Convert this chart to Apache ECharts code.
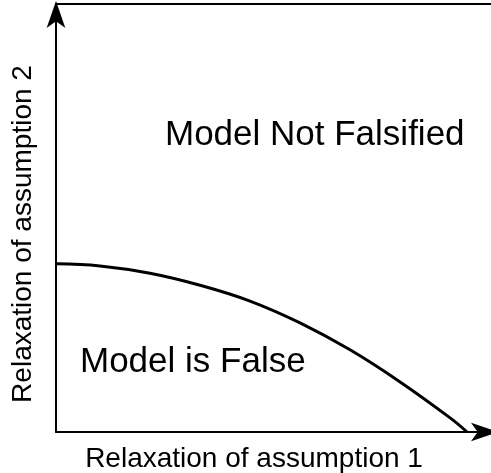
<!DOCTYPE html>
<html>
<head>
<meta charset="utf-8">
<script src="https://cdn.jsdelivr.net/npm/echarts@6/dist/echarts.min.js"></script>
<style>
  html, body { margin: 0; padding: 0; background: #fff; }
  #chart { width: 491px; height: 473px; }
</style>
</head>
<body>
<div id="chart"></div>
<script>
// boundary curve (relative units)
const curveX = [0, 0.101, 0.216, 0.331, 0.446, 0.561, 0.676, 0.791, 0.906, 0.945];
const curveY = [0.393, 0.388, 0.371, 0.343, 0.306, 0.255, 0.192, 0.117, 0.033, 0];

const xName = 'Relaxation of assumption 1';
const yName = 'Relaxation of assumption 2';
const upperLabel = 'Model Not Falsified';
const lowerLabel = 'Model is False';

const font = '"Liberation Sans", Arial, Helvetica, sans-serif';

const chart = echarts.init(document.querySelector('#chart'));
chart.setOption({
    animation: false,
    grid: {
        left: 56,
        right: 0,
        top: 4,
        bottom: 41,
    },
    xAxis: [
        {
            type: 'value',
            min: 0,
            max: 1,
            axisLine: {
                show: true,
                symbol: ['none', 'arrow'],
                symbolSize: [14, 27],
                symbolOffset: [0, 7],
                lineStyle: { color: '#000', width: 2 },
            },
            axisTick: { show: false },
            axisLabel: { show: false },
            splitLine: { show: false },
        },
        {
            // top border line
            type: 'value',
            position: 'top',
            min: 0,
            max: 1,
            axisLine: {
                show: true,
                lineStyle: { color: '#000', width: 2 },
            },
            axisTick: { show: false },
            axisLabel: { show: false },
            splitLine: { show: false },
        }
    ],
    yAxis: {
        type: 'value',
        min: 0,
        max: 1,
        axisLine: {
            show: true,
            symbol: ['none', 'arrow'],
            symbolSize: [14, 27],
            symbolOffset: [0, 3],
            lineStyle: { color: '#000', width: 2 },
        },
        axisTick: { show: false },
        axisLabel: { show: false },
        splitLine: { show: false },
    },
    series: [
        {
            type: 'line',
            xAxisIndex: 0,
            data: curveX.map((x, i) => [x, curveY[i]]),
            smooth: 0.4,
            symbol: 'none',
            lineStyle: { color: '#000', width: 3 },
        }
    ],
    graphic: [
        {
            type: 'text',
            x: 165,
            y: 135,
            style: {
                text: upperLabel,
                font: '35px ' + font,
                fill: '#000',
                textVerticalAlign: 'middle',
            }
        },
        {
            type: 'text',
            x: 80,
            y: 362,
            style: {
                text: lowerLabel,
                font: '35px ' + font,
                fill: '#000',
                textVerticalAlign: 'middle',
            }
        },
        {
            type: 'text',
            x: 254,
            y: 459,
            style: {
                text: xName,
                font: '28px ' + font,
                fill: '#000',
                textAlign: 'center',
                textVerticalAlign: 'middle',
            }
        },
        {
            type: 'text',
            x: 23,
            y: 234,
            rotation: Math.PI / 2,
            style: {
                text: yName,
                font: '28px ' + font,
                fill: '#000',
                textAlign: 'center',
                textVerticalAlign: 'middle',
            }
        }
    ]
});
</script>
</body>
</html>
